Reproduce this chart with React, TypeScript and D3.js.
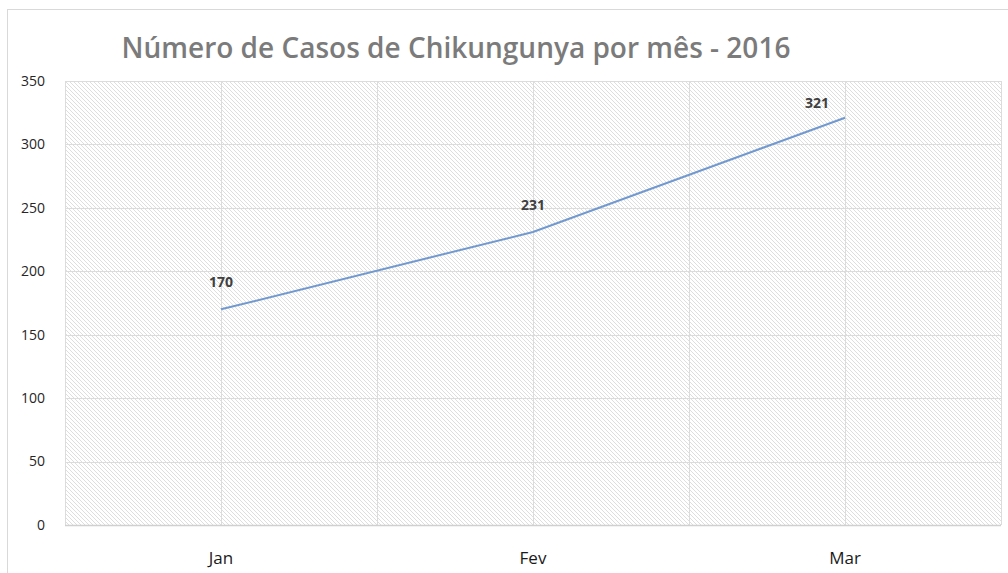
import { useRef, useEffect } from 'react';
import * as d3 from 'd3';

const months = ['Jan', 'Fev', 'Mar'];
const cases = [170, 231, 321];
const yTicks = [0, 50, 100, 150, 200, 250, 300, 350];
const chartTitle = 'Número de Casos de Chikungunya por mês - 2016';

const App = () => {
  const ref = useRef<SVGSVGElement>(null);

  useEffect(() => {
    const svg = d3.select(ref.current);
    svg.selectAll('*').remove();
    const W = 1008;
    const H = 573;
    const margin = { top: 81, right: 7, bottom: 48, left: 65 };
    const width = W - margin.left - margin.right;
    const height = H - margin.top - margin.bottom;

    svg.attr('width', W).attr('height', H);

    const defs = svg.append('defs');
    const pat = defs.append('pattern')
      .attr('id', 'hatch')
      .attr('patternUnits', 'userSpaceOnUse')
      .attr('width', 4)
      .attr('height', 4);
    pat.append('rect').attr('width', 4).attr('height', 4).attr('fill', '#fff');
    pat.append('path')
      .attr('d', 'M-1,-1 L5,5 M3,-1 L5,1 M-1,3 L1,5')
      .attr('stroke', '#dedede')
      .attr('stroke-width', 1);

    // outer chart border
    svg.append('rect')
      .attr('x', 7.5).attr('y', 9.5)
      .attr('width', 1100).attr('height', 700)
      .attr('fill', '#fff')
      .attr('stroke', '#d9d9d9');

    svg.append('text')
      .attr('x', 456)
      .attr('y', 58)
      .attr('text-anchor', 'middle')
      .attr('font-family', 'Open Sans')
      .attr('font-weight', 600)
      .attr('font-size', 28)
      .attr('fill', '#7b7b7b')
      .text(chartTitle);

    const g = svg.append('g')
      .attr('transform', `translate(${margin.left}, ${margin.top})`);

    const x = d3.scaleBand()
      .domain(months)
      .range([0, width]);

    const y = d3.scaleLinear()
      .domain([0, 350])
      .range([height, 0]);

    g.append('rect')
      .attr('width', width)
      .attr('height', height)
      .attr('fill', 'url(#hatch)');

    // horizontal gridlines
    g.selectAll('.hgrid')
      .data(yTicks)
      .enter().append('line')
      .attr('x1', 0).attr('x2', width)
      .attr('y1', d => Math.round(y(d)) + 0.5)
      .attr('y2', d => Math.round(y(d)) + 0.5)
      .attr('stroke', '#dcdcdc');

    // vertical gridlines at category edges and centers
    const vPos: number[] = [];
    months.forEach(m => {
      vPos.push(x(m)!);
      vPos.push(x(m)! + x.bandwidth() / 2);
    });
    vPos.push(width);
    g.selectAll('.vgrid')
      .data(vPos)
      .enter().append('line')
      .attr('x1', d => Math.round(d) + 0.5)
      .attr('x2', d => Math.round(d) + 0.5)
      .attr('y1', 0).attr('y2', height)
      .attr('stroke', '#dcdcdc');

    g.append('line')
      .attr('x1', 0).attr('x2', width)
      .attr('y1', height + 0.5).attr('y2', height + 0.5)
      .attr('stroke', '#d0d0d0')
      .attr('stroke-width', 1.5);

    // y labels
    g.selectAll('.ylab')
      .data(yTicks)
      .enter().append('text')
      .attr('x', -20)
      .attr('y', d => y(d))
      .attr('dy', '0.35em')
      .attr('text-anchor', 'end')
      .attr('font-family', 'Open Sans')
      .attr('font-size', 14)
      .attr('fill', '#262626')
      .text(d => d);

    // x labels
    g.selectAll('.xlab')
      .data(months)
      .enter().append('text')
      .attr('x', d => x(d)! + x.bandwidth() / 2)
      .attr('y', height + 39)
      .attr('text-anchor', 'middle')
      .attr('font-family', 'Open Sans')
      .attr('font-size', 17)
      .attr('fill', '#1a1a1a')
      .text(d => d);

    const cx = (i: number) => x(months[i])! + x.bandwidth() / 2;

    const line = d3.line<number>()
      .x((_, i) => cx(i))
      .y(d => y(d));

    g.append('path')
      .datum(cases)
      .attr('d', line)
      .attr('fill', 'none')
      .attr('stroke', '#7199d0')
      .attr('stroke-width', 2);

    // data labels (last one sits left of its point)
    g.selectAll('.dlab')
      .data(cases)
      .enter().append('text')
      .attr('x', (_, i) => cx(i) + (i === cases.length - 1 ? -28 : 0))
      .attr('y', (d, i) => y(d) - (i === cases.length - 1 ? 10 : 22))
      .attr('text-anchor', 'middle')
      .attr('font-family', 'Open Sans')
      .attr('font-weight', 700)
      .attr('font-size', 14)
      .attr('fill', '#404040')
      .text(d => d);
  }, []);

  return (
    <svg ref={ref} style={{ position: 'absolute', left: 0, top: 0 }}></svg>
  );
};

export default App;
